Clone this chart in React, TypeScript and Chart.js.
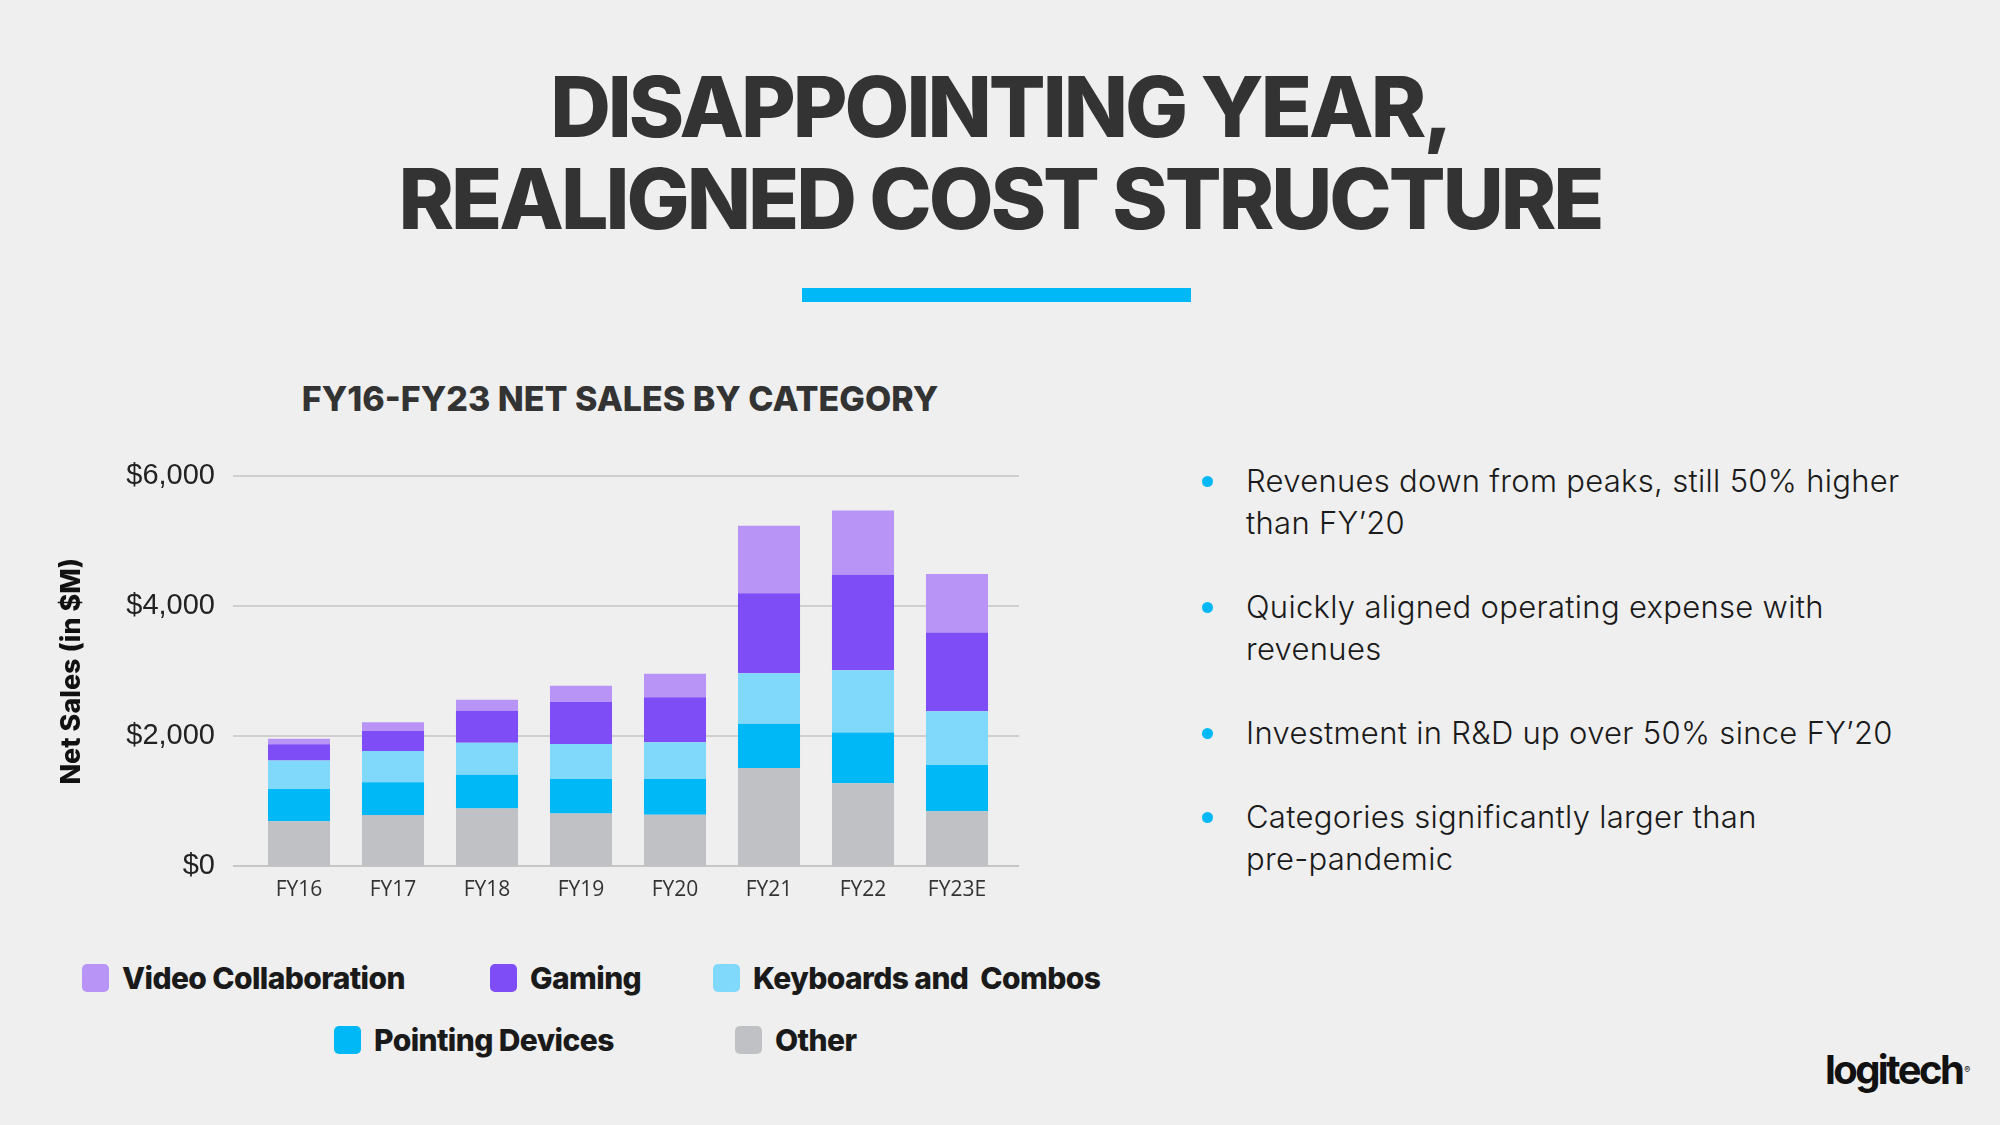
import React, { useEffect, useRef } from "react";
import { Chart, registerables } from "chart.js";

Chart.register(...registerables);

// ---- Data ----
const categories = ["FY16", "FY17", "FY18", "FY19", "FY20", "FY21", "FY22", "FY23E"];
const otherValues = [690, 785, 885, 810, 790, 1510, 1275, 845];
const pointingValues = [495, 505, 520, 530, 550, 680, 780, 710];
const keyboardsValues = [440, 480, 495, 540, 565, 780, 960, 830];
const gamingValues = [250, 310, 490, 645, 695, 1230, 1470, 1210];
const videoValues = [85, 135, 170, 250, 360, 1040, 990, 900];
const yTickValues = [0, 2000, 4000, 6000];

const seriesNames = ["Video Collaboration", "Gaming", "Keyboards and  Combos", "Pointing Devices", "Other"];
const seriesColors = ["#B794F6", "#7F4DF5", "#80D8FB", "#00B8F5", "#BFC1C4"];

const bullets = [
  ["Revenues down from peaks, still 50% higher", "than FY\u201920"],
  ["Quickly aligned operating expense with", "revenues"],
  ["Investment in R&D up over 50% since FY\u201920"],
  ["Categories significantly larger than", "pre-pandemic"],
];

// legend layout (row, left x)
const legendPos = [
  { x: 82, y: 978 },
  { x: 490, y: 978 },
  { x: 713, y: 978 },
  { x: 334, y: 1040 },
  { x: 735, y: 1040 },
];

const BG = "#EFEFEF";
const DARK = "#333333";

const gridPlugin = {
  id: "extendedGrid",
  beforeDatasetsDraw(chart: any) {
    const { ctx } = chart;
    const y = chart.scales.y;
    ctx.save();
    ctx.lineWidth = 2;
    yTickValues.forEach((v) => {
      const py = Math.round(y.getPixelForValue(v));
      ctx.strokeStyle = v === 0 ? "#C6C6C6" : "#CFCFCF";
      ctx.beginPath();
      ctx.moveTo(193, py);
      ctx.lineTo(979, py);
      ctx.stroke();
    });
    ctx.restore();
  },
};

function SalesChart() {
  const ref = useRef<HTMLCanvasElement | null>(null);
  useEffect(() => {
    if (!ref.current) return;
    const stackData = [otherValues, pointingValues, keyboardsValues, gamingValues, videoValues];
    const stackNames = [seriesNames[4], seriesNames[3], seriesNames[2], seriesNames[1], seriesNames[0]];
    const stackColors = [seriesColors[4], seriesColors[3], seriesColors[2], seriesColors[1], seriesColors[0]];
    const chart = new Chart(ref.current, {
      type: "bar",
      data: {
        labels: categories,
        datasets: stackData.map((d, i) => ({
          label: stackNames[i],
          data: d,
          backgroundColor: stackColors[i],
          borderWidth: 0,
          barPercentage: 0.66,
          categoryPercentage: 1,
        })),
      },
      plugins: [gridPlugin],
      options: {
        animation: false,
        responsive: true,
        maintainAspectRatio: false,
        layout: { padding: { left: 0, right: 36, top: 45, bottom: 0 } },
        plugins: {
          legend: { display: false },
          title: { display: false },
          tooltip: { enabled: false },
        },
        scales: {
          x: {
            stacked: true,
            grid: { display: false },
            border: { display: false },
            ticks: {
              color: DARK,
              font: { family: "'Open Sans', sans-serif", size: 21 },
              padding: 3,
              maxRotation: 0,
            },
            afterFit: (s: any) => {
              s.height = 64;
            },
          },
          y: {
            stacked: true,
            min: 0,
            max: 6000,
            grid: { display: false },
            border: { display: false },
            afterBuildTicks: (s: any) => {
              s.ticks = yTickValues.map((v) => ({ value: v }));
            },
            ticks: {
              color: "#222222",
              font: { family: "'Liberation Sans', Arial, sans-serif", size: 29 },
              padding: 29,
              callback: (v: any) => "$" + Number(v).toLocaleString("en-US"),
            },
            title: {
              display: true,
              text: "Net Sales (in $M)",
              color: "#111111",
              font: { family: "Inter, sans-serif", size: 27, weight: 800 },
              padding: { top: 16, bottom: 0 },
            },
            afterFit: (s: any) => {
              s.width = 212;
            },
          },
        },
      },
    });
    return () => chart.destroy();
  }, []);
  return (
    <div style={{ position: "absolute", left: 40, top: 430, width: 1000, height: 500 }}>
      <canvas ref={ref} />
    </div>
  );
}

export default function App() {
  return (
    <div
      style={{
        position: "absolute",
        left: 0,
        top: 0,
        width: 2000,
        height: 1125,
        background: BG,
        overflow: "hidden",
        fontFamily: "Inter, sans-serif",
      }}
    >
      <div
        style={{
          position: "absolute",
          left: 0,
          top: 61,
          width: 2000,
          textAlign: "center",
          fontSize: 84,
          lineHeight: "92px",
          fontWeight: 800,
          color: DARK,
          letterSpacing: -3,
        }}
      >
        DISAPPOINTING YEAR,
        <br />
        REALIGNED COST STRUCTURE
      </div>
      <div style={{ position: "absolute", left: 802, top: 288, width: 389, height: 14, background: "#00B8F5" }} />

      <div
        style={{
          position: "absolute",
          left: 220,
          width: 800,
          top: 378,
          textAlign: "center",
          fontSize: 34,
          lineHeight: "42px",
          fontWeight: 800,
          color: DARK,
        }}
      >
        FY16-FY23 NET SALES BY CATEGORY
      </div>

      <SalesChart />

      {seriesNames.map((name, i) => (
        <div
          key={name}
          style={{
            position: "absolute",
            left: legendPos[i].x,
            top: legendPos[i].y - 20,
            height: 40,
            display: "flex",
            alignItems: "center",
            whiteSpace: "pre",
          }}
        >
          <div style={{ width: 27, height: 28, borderRadius: 5, background: seriesColors[i], marginRight: 13 }} />
          <span style={{ fontSize: 30, fontWeight: 800, color: "#1A1A1A", letterSpacing: -0.6 }}>{name}</span>
        </div>
      ))}

      <div style={{ position: "absolute", left: 1196, top: 460 }}>
        {bullets.map((lines, i) => (
          <div key={i} style={{ position: "relative", marginBottom: 42, paddingLeft: 50 }}>
            <div
              style={{
                position: "absolute",
                left: 6,
                top: 16,
                width: 11,
                height: 11,
                borderRadius: "50%",
                background: "#00B8F5",
              }}
            />
            {lines.map((l, j) => (
              <div
                key={j}
                style={{
                  fontSize: 31,
                  lineHeight: "42px",
                  fontWeight: 300,
                  color: "#1A1A1A",
                  whiteSpace: "nowrap",
                  letterSpacing: 0.3,
                }}
              >
                {l}
              </div>
            ))}
          </div>
        ))}
      </div>

      <div
        style={{
          position: "absolute",
          left: 1825,
          top: 1047,
          fontSize: 40,
          fontWeight: 700,
          color: "#111111",
          letterSpacing: -2.6,
          lineHeight: "46px",
        }}
      >
        logitech
        <span style={{ fontSize: 9, fontWeight: 400, verticalAlign: "top", letterSpacing: 0, marginLeft: 2 }}>®</span>
      </div>
    </div>
  );
}
